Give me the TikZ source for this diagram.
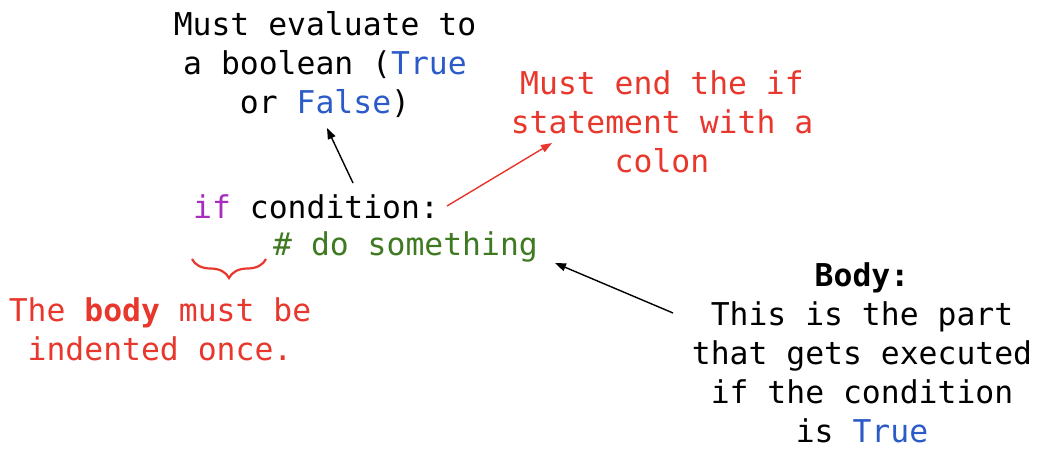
\documentclass[tikz,border=0pt]{standalone}
\usepackage{fontspec}
\setmainfont{DejaVu Sans Mono}
\usepackage{xcolor}
\usetikzlibrary{arrows.meta,decorations.pathreplacing}

\definecolor{kwpurple}{HTML}{A62DBE}
\definecolor{cmgreen}{HTML}{3F7A23}
\definecolor{notered}{HTML}{E8372C}
\definecolor{valblue}{HTML}{2B5BC8}

\begin{document}
\begin{tikzpicture}[x=1pt,y=-1pt,
    every node/.style={inner sep=0pt,font=\fontsize{31.4}{39}\selectfont},
    note/.style={align=center,anchor=north},
    pointer/.style={-{Triangle[length=11pt,width=8pt]},line width=1.4pt}]
  \useasboundingbox (0,0) rectangle (1044,452);

  % the code
  \node[anchor=base west] (ifline) at (193,218) {\textcolor{kwpurple}{if} condition:};
  \node[anchor=base west,text=cmgreen] (bodyline) at (273,255) {\# do something};

  % notes round it
  \node[note] (boolnote) at (325,11) {Must evaluate to\\a boolean (\textcolor{valblue}{True}\\or \textcolor{valblue}{False})};
  \node[note,text=notered] (colonnote) at (662,70) {Must end the if\\statement with a\\colon};
  \node[note,text=notered] (indentnote) at (160,297) {The \textbf{body} must be\\indented once.};
  \node[note] (bodynote) at (862,262) {\textbf{Body:}\\This is the part\\that gets executed\\if the condition\\is \textcolor{valblue}{True}};

  \coordinate (condtop) at (353,183);
  \coordinate (booltip) at (327,128);
  \coordinate (colonend) at (447,206);
  \coordinate (colontip) at (552,143);
  \coordinate (bodystart) at (673,313);
  \coordinate (bodytip) at (555,263);

  \draw[pointer] (condtop) -- (booltip);
  \draw[pointer,notered] (colonend) -- (colontip);
  \draw[pointer] (bodystart) -- (bodytip);
  \draw[notered,line width=2.2pt,decorate,decoration={brace,mirror,amplitude=19pt}]
    (192,259) -- (266,259);
\end{tikzpicture}
\end{document}
